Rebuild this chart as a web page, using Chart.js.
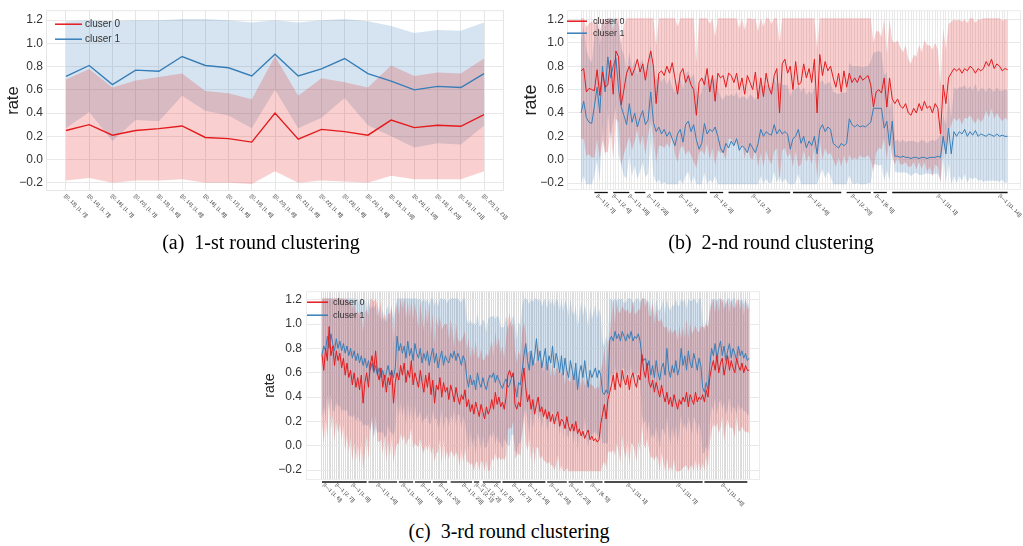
<!DOCTYPE html>
<html>
<head>
<meta charset="utf-8">
<script src="https://cdn.jsdelivr.net/npm/chart.js@4.4.1/dist/chart.umd.min.js"></script>
<style>
  body { margin: 0; background: #fff; }
  #page { position: relative; width: 1023px; height: 546px; overflow: hidden; background: #fff; }
  canvas { position: absolute; }
  .cap { position: absolute; font-family: "Liberation Serif", "Times New Roman", serif; font-size: 20px; color: #000; white-space: pre; transform: translate(-50%, -50%); }
</style>
</head>
<body>
<div id="page">
  <canvas id="chartA" width="515" height="232" style="left:0px;top:0px"></canvas>
  <canvas id="chartB" width="503" height="232" style="left:520px;top:0px"></canvas>
  <canvas id="chartC" width="510" height="238" style="left:260px;top:280px"></canvas>
  <div class="cap" style="left:261px;top:242px">(a)  1-st round clustering</div>
  <div class="cap" style="left:771px;top:242px">(b)  2-nd round clustering</div>
  <div class="cap" style="left:509px;top:531px">(c)  3-rd round clustering</div>
</div>
<script>
// y axis ticks shared by all three panels
const yTicks = [-0.2, 0.0, 0.2, 0.4, 0.6, 0.8, 1.0, 1.2];

//////////////////////// (a) 1-st round

const aLabels = [
    '[[0, 13], [1, 7]]', '[[0, 14], [1, 7]]', '[[0, 16], [1, 7]]', '[[0, 20], [1, 7]]',
    '[[0, 13], [1, 8]]', '[[0, 14], [1, 8]]', '[[0, 16], [1, 8]]', '[[0, 17], [1, 8]]',
    '[[0, 19], [1, 8]]', '[[0, 20], [1, 8]]', '[[0, 21], [1, 8]]', '[[0, 22], [1, 8]]',
    '[[0, 23], [1, 8]]', '[[0, 24], [1, 8]]', '[[0, 13], [1, 19]]', '[[0, 24], [1, 19]]',
    '[[0, 13], [1, 20]]', '[[0, 14], [1, 21]]', '[[0, 20], [1, 21]]',
];
const aMean0 = [0.25, 0.30, 0.21, 0.25, 0.266, 0.289, 0.19, 0.18, 0.15, 0.40, 0.175, 0.26, 0.24, 0.21, 0.34, 0.275, 0.295, 0.286, 0.386];
const aUpper0 = [0.69, 0.78, 0.62, 0.68, 0.71, 0.74, 0.59, 0.57, 0.52, 0.89, 0.55, 0.70, 0.665, 0.62, 0.81, 0.72, 0.75, 0.74, 0.87];
const aLower0 = [-0.18, -0.16, -0.20, -0.18, -0.18, -0.17, -0.20, -0.20, -0.21, -0.10, -0.20, -0.18, -0.19, -0.20, -0.14, -0.17, -0.17, -0.17, -0.10];
const aMean1 = [0.716, 0.81, 0.645, 0.77, 0.76, 0.887, 0.81, 0.79, 0.72, 0.907, 0.72, 0.78, 0.87, 0.74, 0.675, 0.60, 0.63, 0.62, 0.74];
const aUpper1 = [1.19, 1.20, 1.19, 1.20, 1.20, 1.21, 1.21, 1.20, 1.18, 1.20, 1.18, 1.20, 1.21, 1.19, 1.15, 1.09, 1.115, 1.11, 1.18];
const aLower1 = [0.27, 0.41, 0.16, 0.34, 0.33, 0.55, 0.42, 0.38, 0.27, 0.60, 0.27, 0.36, 0.53, 0.295, 0.20, 0.104, 0.14, 0.13, 0.29];

//////////////////////// (b) 2-nd round

const bMean0 = [
    0.76, 0.78, 0.58, 0.61, 0.60, 0.59, 0.77, 0.55, 0.75, 0.62, 0.64, 0.85, 0.56, 0.93, 0.88,
    0.47, 0.60,
    0.74, 0.80, 0.72, 0.78, 0.86, 0.75, 0.82, 0.68, 0.83, 0.93, 0.80,
    0.48, 0.74,
    0.76, 0.72, 0.80, 0.74, 0.83, 0.70, 0.56, 0.74, 0.78, 0.66, 0.72, 0.64, 0.60, 0.38,
    0.66, 0.70, 0.64, 0.78, 0.58, 0.72, 0.50,
    0.74, 0.70, 0.72, 0.62, 0.74, 0.72, 0.66, 0.74, 0.60, 0.70, 0.56, 0.72, 0.66, 0.60, 0.75, 0.52, 0.70, 0.54, 0.74, 0.62, 0.56, 0.72, 0.78,
    0.40, 0.82, 0.86, 0.74, 0.80, 0.60,
    0.84, 0.64, 0.66, 0.82, 0.70, 0.78, 0.66, 0.86, 0.40, 0.90, 0.72,
    0.84, 0.76, 0.80, 0.70, 0.62, 0.74, 0.58, 0.76, 0.62, 0.74,
    0.66, 0.70, 0.66, 0.72, 0.68, 0.70, 0.72, 0.64, 0.45,
    0.58, 0.60, 0.57, 0.70, 0.45, 0.70,
    0.52, 0.48, 0.52, 0.46, 0.44, 0.48, 0.40, 0.38, 0.44, 0.40, 0.48, 0.42, 0.50, 0.44, 0.46,
    0.40, 0.48, 0.44, 0.22, 0.64, 0.48,
    0.70, 0.74, 0.78, 0.76, 0.78, 0.74, 0.78, 0.76, 0.80, 0.78, 0.74, 0.78, 0.76,
    0.78, 0.84, 0.80, 0.86, 0.78, 0.82, 0.80, 0.76, 0.78, 0.77,
];
const bMean1 = [
    0.40, 0.50, 0.36, 0.32, 0.31, 0.46, 0.62, 0.40, 0.80, 0.58, 0.88, 0.70, 0.80, 0.87, 0.60,
    0.45, 0.38,
    0.30, 0.48, 0.32, 0.40, 0.28, 0.36, 0.42, 0.30, 0.34, 0.58, 0.32,
    0.24, 0.28,
    0.22, 0.26, 0.20, 0.24, 0.18, 0.12, 0.22, 0.26, 0.15, 0.30, 0.33, 0.24, 0.30, 0.17,
    0.09, 0.14, 0.31, 0.22, 0.26, 0.24, 0.28,
    0.20, 0.10, 0.06, 0.14, 0.10, 0.16, 0.12, 0.18, 0.08, 0.12, 0.10, 0.06, 0.14, 0.10, 0.06, 0.14, 0.26, 0.20, 0.24, 0.22, 0.21, 0.30, 0.22,
    0.26, 0.22, 0.24, 0.22, 0.09, 0.18,
    0.20, 0.26, 0.14, 0.20, 0.10, 0.16, 0.12, 0.20, 0.05, 0.26, 0.30,
    0.24, 0.28, 0.26, 0.14, 0.12, 0.10, 0.14, 0.12, 0.14, 0.35,
    0.30, 0.28, 0.30, 0.28, 0.29, 0.28, 0.30, 0.32, 0.44,
    0.44, 0.44, 0.44, 0.27, 0.33, 0.12,
    0.33, 0.03, 0.03, 0.02, 0.03, 0.02, 0.02, 0.01, 0.02, 0.02, 0.01, 0.02, 0.02, 0.01, 0.02,
    0.02, 0.02, 0.03, 0.02, 0.20, 0.05,
    0.27, 0.05, 0.24, 0.20, 0.24, 0.22, 0.26, 0.20, 0.24, 0.21, 0.25, 0.20, 0.22,
    0.21, 0.20, 0.22, 0.21, 0.20, 0.22, 0.20, 0.21, 0.20, 0.20,
];
const bSpread0 = [
    0.58, 0.60, 0.55, 0.56, 0.58, 0.57, 0.60, 0.55, 0.58, 0.56, 0.57, 0.60, 0.55, 0.58, 0.56, 0.52, 0.55,
    0.62, 0.60, 0.64, 0.62, 0.60, 0.63, 0.61, 0.64, 0.62, 0.60, 0.63, 0.50, 0.62,
    0.64, 0.62, 0.66, 0.64, 0.63, 0.65, 0.58, 0.64, 0.66, 0.62, 0.64, 0.60, 0.62, 0.45, 0.60, 0.62, 0.60, 0.64, 0.58, 0.62, 0.55,
    0.66, 0.64, 0.66, 0.62, 0.56, 0.54, 0.55, 0.56, 0.52, 0.56, 0.55, 0.62, 0.64, 0.60, 0.66, 0.58, 0.64, 0.60, 0.66, 0.62, 0.60, 0.65, 0.68,
    0.60, 0.74, 0.76, 0.72, 0.74, 0.66, 0.76, 0.70, 0.70, 0.74, 0.72, 0.74, 0.70, 0.76, 0.55, 0.74, 0.72, 0.74, 0.72, 0.74,
    0.70, 0.68, 0.72, 0.64, 0.72, 0.66, 0.70, 0.66, 0.68, 0.66, 0.68, 0.66, 0.68, 0.68, 0.64,
    0.55, 0.52, 0.50, 0.48, 0.52, 0.45, 0.50,
    0.50, 0.52, 0.50, 0.50, 0.48, 0.50, 0.46, 0.44, 0.46, 0.48, 0.50, 0.50, 0.52, 0.54, 0.52, 0.54, 0.52, 0.50, 0.42, 0.48, 0.46,
    0.46, 0.44, 0.42, 0.43, 0.42, 0.44, 0.42, 0.41, 0.42, 0.44, 0.43, 0.42, 0.44, 0.43, 0.42, 0.44, 0.42, 0.43, 0.42, 0.44, 0.43, 0.42, 0.43,
];
const bSpread1 = [
    0.62, 0.64, 0.58, 0.55, 0.52, 0.60, 0.62, 0.58, 0.50, 0.56, 0.46, 0.52, 0.48, 0.42, 0.55, 0.50, 0.52,
    0.46, 0.44, 0.46, 0.45, 0.44, 0.46, 0.44, 0.45, 0.46, 0.40, 0.45, 0.44, 0.45,
    0.44, 0.45, 0.44, 0.46, 0.44, 0.45, 0.44, 0.43, 0.45, 0.44, 0.43, 0.45, 0.44, 0.43, 0.45, 0.44, 0.42, 0.44, 0.43, 0.44, 0.42,
    0.42, 0.44, 0.45, 0.42, 0.44, 0.40, 0.42, 0.40, 0.44, 0.42, 0.44, 0.45, 0.42, 0.44, 0.45, 0.42, 0.40, 0.42, 0.40, 0.42, 0.41, 0.40, 0.42,
    0.40, 0.42, 0.40, 0.42, 0.45, 0.42, 0.40, 0.38, 0.44, 0.42, 0.45, 0.43, 0.44, 0.42, 0.45, 0.40, 0.38, 0.40, 0.38, 0.40,
    0.44, 0.45, 0.46, 0.44, 0.45, 0.44, 0.48, 0.50, 0.52, 0.50, 0.52, 0.50, 0.52, 0.50, 0.52,
    0.48, 0.48, 0.49, 0.48, 0.45, 0.42, 0.30,
    0.20, 0.13, 0.14, 0.13, 0.14, 0.13, 0.14, 0.15, 0.14, 0.13, 0.14, 0.15, 0.14, 0.13, 0.14, 0.15, 0.14, 0.15, 0.20, 0.18, 0.25,
    0.30, 0.30, 0.38, 0.40, 0.38, 0.40, 0.38, 0.40, 0.39, 0.38, 0.40, 0.38, 0.39, 0.40, 0.38, 0.40, 0.39, 0.38, 0.40, 0.39, 0.38, 0.40, 0.39,
];
const bTickText = [
    '[I\u20141 [1, 7]]', '[I\u20141 [2, 4]]', '[I\u20141 [1, 16]]', '[I\u20141 [1, 23]]',
    '[I\u20141 [2, 1]]', '[I\u20141 [2, 2]]', '[I\u20141 [2, 7]]', '[I\u20141 [2, 14]]',
    '[I\u20141 [2, 20]]', '[I\u20141 [6, 5]]', '[I\u20141 [11, 1]]', '[I\u20141 [11, 14]]',
];
const bTickAt = [6, 12, 18, 25, 37, 50, 64, 85, 101, 110, 133, 156];
const bGroups = [[5, 10], [12, 18], [20, 24], [27, 31], [32, 47], [48, 53], [55, 78], [79, 97], [99, 108], [109, 114], [116, 159]];

//////////////////////// (c) 3-rd round

const cMean0 = [
    0.75, 0.62, 0.80, 0.70, 0.98, 0.74, 0.82, 0.66, 0.78, 0.70, 0.76,
    0.64, 0.72, 0.58, 0.68, 0.56, 0.62, 0.50, 0.60, 0.48,
    0.56, 0.46, 0.58, 0.35, 0.52, 0.60, 0.48, 0.66, 0.74, 0.62, 0.78,
    0.60, 0.54, 0.64, 0.48, 0.58, 0.44, 0.56, 0.50, 0.62, 0.35, 0.52,
    0.60, 0.54, 0.66,
    0.58, 0.68, 0.52, 0.62, 0.56, 0.70, 0.50, 0.60, 0.54, 0.48, 0.62,
    0.52, 0.44, 0.58, 0.48, 0.60, 0.42, 0.54, 0.35, 0.50, 0.46, 0.56, 0.40, 0.52, 0.44, 0.48, 0.38, 0.50,
    0.44, 0.36, 0.48, 0.40, 0.34, 0.42, 0.38, 0.46,
    0.32, 0.38, 0.28, 0.34, 0.26, 0.36, 0.30, 0.24, 0.34, 0.28, 0.22, 0.32, 0.26, 0.30,
    0.38, 0.30, 0.44, 0.34, 0.40, 0.32,
    0.36, 0.30, 0.40, 0.58, 0.62, 0.56,
    0.60, 0.34, 0.30, 0.36, 0.32,
    0.52, 0.64, 0.48,
    0.36, 0.42, 0.30, 0.38, 0.26, 0.34, 0.40, 0.28, 0.32, 0.24, 0.30, 0.22, 0.28, 0.20, 0.26, 0.18, 0.24, 0.28, 0.16, 0.22,
    0.20, 0.14, 0.24, 0.16, 0.12,
    0.18, 0.12, 0.20, 0.10, 0.14, 0.08, 0.12, 0.06, 0.10, 0.13, 0.05, 0.08,
    0.04, 0.06, 0.03, 0.05, 0.18,
    0.26, 0.34, 0.22, 0.38,
    0.44,
    0.50, 0.58, 0.46, 0.60, 0.52, 0.48, 0.62, 0.54, 0.50, 0.58, 0.46, 0.56, 0.60, 0.52, 0.48, 0.58, 0.54,
    0.75, 0.62, 0.56, 0.68, 0.52,
    0.48, 0.54, 0.44, 0.52, 0.46, 0.40, 0.50,
    0.42, 0.36, 0.44, 0.34, 0.40, 0.32, 0.42, 0.36, 0.30, 0.38, 0.34,
    0.40, 0.36, 0.44, 0.32, 0.42, 0.38, 0.34, 0.44, 0.36, 0.40, 0.38,
    0.42, 0.36, 0.46, 0.40,
    0.56, 0.64,
    0.70, 0.62, 0.74, 0.60, 0.68, 0.72, 0.58, 0.66, 0.74, 0.62, 0.70, 0.64, 0.60, 0.72, 0.66, 0.62, 0.68, 0.60, 0.66, 0.62, 0.62,
];
const cMean1 = [
    0.75, 0.82, 0.78, 0.90, 0.80, 0.92, 0.84, 0.78, 0.88, 0.80, 0.86,
    0.78, 0.84, 0.76, 0.82, 0.74, 0.80, 0.72, 0.78, 0.70,
    0.76, 0.68, 0.74, 0.66, 0.72, 0.64, 0.70, 0.62, 0.68, 0.60, 0.66,
    0.58, 0.64, 0.56, 0.62, 0.54, 0.60, 0.66, 0.58, 0.62, 0.56, 0.64,
    0.90, 0.78, 0.84,
    0.76, 0.82, 0.72, 0.86, 0.74, 0.80, 0.70, 0.84, 0.76, 0.72, 0.80,
    0.68, 0.76, 0.70, 0.78, 0.66, 0.74, 0.80, 0.68, 0.76, 0.64, 0.72, 0.78, 0.66, 0.74, 0.70, 0.68, 0.76,
    0.72, 0.78, 0.70, 0.76, 0.72, 0.66, 0.74, 0.70,
    0.56, 0.48, 0.58, 0.50, 0.54, 0.46, 0.60, 0.52, 0.48, 0.56, 0.50, 0.46, 0.54, 0.58,
    0.56, 0.60, 0.52, 0.58, 0.54, 0.50,
    0.47, 0.52, 0.55, 0.48, 0.50, 0.56,
    0.58, 0.48, 0.40, 0.52, 0.50,
    0.62, 0.74, 0.84,
    0.70, 0.62, 0.78, 0.66, 0.74, 0.88, 0.70, 0.78, 0.64, 0.72, 0.80, 0.62, 0.74, 0.68, 0.82, 0.64, 0.76, 0.70, 0.60, 0.74,
    0.58, 0.72, 0.62, 0.56, 0.70,
    0.62, 0.54, 0.68, 0.46, 0.60, 0.66, 0.56, 0.70, 0.58, 0.48, 0.62, 0.56,
    0.60, 0.64, 0.56, 0.62, 0.58,
    0.44, 0.42, 0.46, 0.43,
    0.87,
    0.90, 0.86, 0.94, 0.88, 0.92, 0.86, 0.94, 0.90, 0.86, 0.92, 0.88, 0.94, 0.86, 0.90, 0.88, 0.92, 0.86,
    0.74, 0.70, 0.72, 0.64, 0.70,
    0.58, 0.66, 0.56, 0.70, 0.60, 0.54, 0.64,
    0.68, 0.58, 0.80, 0.62, 0.56, 0.66, 0.60, 0.70, 0.58, 0.64, 0.80,
    0.66, 0.74, 0.62, 0.78, 0.68, 0.64, 0.76, 0.70, 0.62, 0.72, 0.66,
    0.48, 0.44, 0.52, 0.46,
    0.66, 0.80,
    0.74, 0.84, 0.72, 0.80, 0.86, 0.74, 0.82, 0.70, 0.78, 0.84, 0.72, 0.80, 0.76, 0.70, 0.82, 0.74, 0.78, 0.72, 0.76, 0.70, 0.72,
];
const cSpread0 = [
    0.56, 0.60, 0.58, 0.63, 0.55, 0.61, 0.57, 0.62, 0.58, 0.60, 0.57,
    0.60, 0.55, 0.62, 0.59, 0.61, 0.56, 0.63, 0.57, 0.60,
    0.55, 0.61, 0.54, 0.58, 0.57, 0.52, 0.59, 0.54, 0.50, 0.56, 0.53,
    0.56, 0.51, 0.58, 0.55, 0.50, 0.57, 0.52, 0.59, 0.54, 0.49, 0.56,
    0.58, 0.53, 0.56,
    0.54, 0.59, 0.52, 0.57, 0.50, 0.55, 0.53, 0.58, 0.54, 0.49, 0.56,
    0.54, 0.50, 0.57, 0.52, 0.58, 0.49, 0.55, 0.48, 0.56, 0.51, 0.50, 0.55, 0.47, 0.56, 0.52, 0.49, 0.54,
    0.50, 0.46, 0.53, 0.48, 0.51, 0.45, 0.52, 0.48,
    0.46, 0.51, 0.44, 0.48, 0.47, 0.50, 0.43, 0.48, 0.46, 0.42, 0.49, 0.44, 0.47, 0.50,
    0.48, 0.43, 0.50, 0.46, 0.49, 0.44,
    0.46, 0.42, 0.48, 0.45, 0.47, 0.42,
    0.40, 0.45, 0.38, 0.42, 0.41,
    0.42, 0.38, 0.45,
    0.40, 0.36, 0.43, 0.38, 0.41, 0.35, 0.42, 0.39, 0.40, 0.36, 0.43, 0.37, 0.41, 0.36, 0.42, 0.38, 0.40, 0.35, 0.43, 0.38,
    0.41, 0.36, 0.42, 0.38, 0.40,
    0.44, 0.40, 0.47, 0.42, 0.45, 0.40, 0.46, 0.43, 0.44, 0.39, 0.46, 0.42,
    0.45, 0.40, 0.46, 0.42, 0.44,
    0.42, 0.47, 0.40, 0.44,
    0.48,
    0.56, 0.61, 0.54, 0.58, 0.57, 0.62, 0.53, 0.58, 0.60, 0.55, 0.62, 0.54, 0.59, 0.56, 0.61, 0.54, 0.58,
    0.56, 0.61, 0.58, 0.62, 0.55,
    0.58, 0.63, 0.56, 0.60, 0.57, 0.62, 0.55,
    0.56, 0.61, 0.54, 0.58, 0.57, 0.60, 0.53, 0.59, 0.56, 0.61, 0.54,
    0.58, 0.53, 0.60, 0.56, 0.59, 0.54, 0.61, 0.55, 0.58, 0.53, 0.60,
    0.56, 0.61, 0.54, 0.58,
    0.54, 0.52,
    0.52, 0.47, 0.55, 0.50, 0.53, 0.48, 0.54, 0.51, 0.52, 0.47, 0.55, 0.50, 0.53, 0.48, 0.54, 0.50, 0.52, 0.47, 0.55, 0.50, 0.52,
];
const cSpread1 = [
    0.52, 0.50, 0.54, 0.48, 0.52, 0.50, 0.55, 0.50, 0.52, 0.48, 0.53,
    0.50, 0.54, 0.48, 0.52, 0.50, 0.55, 0.49, 0.52, 0.50,
    0.52, 0.48, 0.53, 0.50, 0.54, 0.48, 0.52, 0.50, 0.47, 0.53, 0.50,
    0.48, 0.52, 0.46, 0.50, 0.47, 0.52, 0.49, 0.46, 0.51, 0.48, 0.50,
    0.50, 0.54, 0.48,
    0.52, 0.48, 0.55, 0.50, 0.53, 0.47, 0.52, 0.50, 0.54, 0.48, 0.51,
    0.50, 0.54, 0.48, 0.52, 0.49, 0.55, 0.50, 0.47, 0.53, 0.50, 0.52, 0.48, 0.54, 0.50, 0.47, 0.52, 0.50,
    0.52, 0.48, 0.53, 0.50, 0.47, 0.52, 0.49, 0.51,
    0.48, 0.52, 0.46, 0.50, 0.47, 0.53, 0.49, 0.46, 0.51, 0.48, 0.52, 0.47, 0.50, 0.48,
    0.50, 0.47, 0.52, 0.49, 0.51, 0.48,
    0.50, 0.46, 0.52, 0.48, 0.50, 0.47,
    0.49, 0.52, 0.46, 0.50, 0.48,
    0.52, 0.49, 0.53,
    0.50, 0.54, 0.48, 0.52, 0.50, 0.55, 0.49, 0.52, 0.50, 0.47, 0.53, 0.50, 0.54, 0.48, 0.52, 0.50, 0.55, 0.49, 0.51, 0.50,
    0.52, 0.48, 0.53, 0.50, 0.51,
    0.49, 0.53, 0.47, 0.51, 0.48, 0.52, 0.50, 0.46, 0.51, 0.49, 0.52, 0.48,
    0.50, 0.52, 0.48, 0.51, 0.49,
    0.42, 0.40, 0.44, 0.41,
    0.35,
    0.30, 0.33, 0.28, 0.31, 0.29, 0.34, 0.30, 0.27, 0.32, 0.30, 0.33, 0.28, 0.31, 0.29, 0.33, 0.30, 0.32,
    0.48, 0.52, 0.50, 0.54, 0.49,
    0.52, 0.56, 0.50, 0.54, 0.52, 0.57, 0.51,
    0.54, 0.50, 0.56, 0.52, 0.55, 0.50, 0.54, 0.52, 0.57, 0.51, 0.54,
    0.52, 0.56, 0.50, 0.54, 0.51, 0.55, 0.52, 0.50, 0.54, 0.52, 0.55,
    0.54, 0.50, 0.52, 0.50,
    0.48, 0.46,
    0.46, 0.44, 0.47, 0.45, 0.48, 0.44, 0.46, 0.45, 0.47, 0.44, 0.46, 0.48, 0.45, 0.44, 0.47, 0.45, 0.46, 0.44, 0.47, 0.45, 0.46,
];
const cTickText = [
    '[I\u20141 [1, 6]]', '[I\u20141 [2, 7]]', '[I\u20141 [1, 8]]', '[I\u20141 [1, 14]]', '[I\u20141 [1, 16]]',
    '[I\u20141 [1, 18]]', '[I\u20141 [1, 20]]', '[I\u20141 [1, 23]]', '[I\u20141 [2, 1]]', '[I\u20141 [2, 2]]',
    '[I\u20141 [2, 5]]', '[I\u20141 [2, 7]]', '[I\u20141 [2, 14]]', '[I\u20141 [2, 16]]', '[I\u20141 [2, 20]]',
    '[I\u20141 [6, 5]]', '[I\u20141 [11, 1]]', '[I\u20141 [11, 7]]', '[I\u20141 [11, 14]]',
];
const cTickAt = [1, 8, 17, 31, 45, 56, 66, 79, 86, 90, 97, 107, 116, 128, 139, 151, 171, 199, 224];
const cGroups = [[0, 25], [26, 42], [43, 51], [52, 61], [62, 70], [72, 84], [85, 88], [90, 100], [101, 125], [126, 137], [138, 146], [147, 157], [158, 213], [214, 238]];

//////////////////////// helpers

Chart.defaults.font.family = '"Liberation Sans", Arial, sans-serif';
Chart.defaults.color = '#333';

const RED = 'rgb(228, 26, 28)';
const BLUE = 'rgb(55, 126, 184)';
const RED_FILL = 'rgba(228, 26, 28, 0.21)';
const BLUE_FILL = 'rgba(55, 126, 184, 0.21)';
const CLEAR = 'rgba(0, 0, 0, 0)';

const pts = arr => arr.map((y, i) => ({x: i, y: y}));
const bandEdge = (mean, spread, sign) => mean.map((m, i) => Math.max(-0.21, Math.min(1.21, m + sign * spread[i])));

function datasets(m0, u0, l0, m1, u1, l1, lw) {
    const line = (label, data, color) => ({
        label: label, data: pts(data), borderColor: color, borderWidth: lw,
        pointRadius: 0, fill: false, tension: 0,
    });
    const edge = (data, fill, bg) => ({
        label: '', data: pts(data), borderColor: CLEAR, borderWidth: 1,
        pointRadius: 0, fill: fill, backgroundColor: bg || CLEAR, tension: 0,
    });
    return [
        line('cluser 0', m0, RED),
        line('cluser 1', m1, BLUE),
        edge(u0, false),
        edge(l0, '-1', RED_FILL),
        edge(u1, false),
        edge(l1, '-1', BLUE_FILL),
    ];
}

function yScale(min, max, width, pad, titleSize, titlePad) {
    return {
        type: 'linear', min: min, max: max,
        afterBuildTicks: s => { s.ticks = yTicks.map(v => ({value: v})); },
        afterFit: s => { s.width = width; },
        ticks: {
            font: {size: 12}, color: '#333', padding: pad,
            callback: v => v.toFixed(1).replace('-', '\u2212'),
        },
        grid: {color: '#e8e8e8', drawTicks: false},
        border: {display: false},
        title: {display: true, text: 'rate', color: '#222', font: {size: titleSize}, padding: {top: titlePad, bottom: 0}},
    };
}

function xScale(min, max, n, height, gridColor) {
    return {
        type: 'linear', min: min, max: max,
        afterBuildTicks: s => { s.ticks = Array.from({length: n}, (_, i) => ({value: i})); },
        afterFit: s => { s.height = height; },
        ticks: {display: false},
        grid: {color: gridColor, drawTicks: false},
        border: {display: false},
    };
}

// light frame round the plot area
function frame(color) {
    return {
        id: 'frame',
        beforeDatasetsDraw(chart) {
            const {ctx, chartArea} = chart;
            ctx.save();
            ctx.strokeStyle = color;
            ctx.lineWidth = 1;
            ctx.strokeRect(chartArea.left + 0.5, chartArea.top + 0.5, chartArea.width - 1, chartArea.height - 1);
            ctx.restore();
        }
    };
}

// legend drawn inside the top-left corner of the plot
function insideLegend(o) {
    return {
        id: 'insideLegend',
        afterDatasetsDraw(chart) {
            const {ctx, chartArea} = chart;
            ctx.save();
            ctx.font = o.size + 'px "Liberation Sans", Arial, sans-serif';
            ctx.textBaseline = 'middle';
            ctx.textAlign = 'left';
            chart.data.datasets.filter(d => d.label).forEach((d, i) => {
                const y = chartArea.top + o.top + i * o.row;
                const x = chartArea.left + o.left;
                ctx.strokeStyle = d.borderColor;
                ctx.lineWidth = 1.5;
                ctx.beginPath();
                ctx.moveTo(x, y);
                ctx.lineTo(x + o.len, y);
                ctx.stroke();
                ctx.fillStyle = '#333';
                ctx.fillText(d.label, x + o.len + o.gap, y);
            });
            ctx.restore();
        }
    };
}

// rotated category labels (and group bars) under the x axis
function axisLabels(o) {
    return {
        id: 'axisLabels',
        afterDraw(chart) {
            const {ctx, chartArea} = chart;
            const xs = chart.scales.x;
            ctx.save();
            ctx.strokeStyle = '#111';
            ctx.lineWidth = 1.3;
            (o.groups || []).forEach(g => {
                const y = chartArea.bottom + o.lineGap;
                ctx.beginPath();
                ctx.moveTo(xs.getPixelForValue(g[0]), y);
                ctx.lineTo(xs.getPixelForValue(g[1]), y);
                ctx.stroke();
            });
            ctx.font = o.size + 'px "Liberation Sans", Arial, sans-serif';
            ctx.fillStyle = '#333';
            ctx.textAlign = 'left';
            ctx.textBaseline = 'middle';
            o.text.forEach((t, i) => {
                ctx.save();
                ctx.translate(xs.getPixelForValue(o.at[i]) + o.dx, chartArea.bottom + o.dy);
                ctx.rotate(Math.PI / 4);
                ctx.fillText(t, 0, 0);
                ctx.restore();
            });
            ctx.restore();
        }
    };
}

const baseOptions = (padTop, padRight, scales) => ({
    responsive: false,
    animation: false,
    devicePixelRatio: 1,
    layout: {padding: {top: padTop, right: padRight, left: 0, bottom: 0}},
    plugins: {legend: {display: false}, tooltip: {enabled: false}},
    scales: scales,
});

//////////////////////// (a)

const chartA = new Chart(document.getElementById('chartA'), {
    type: 'line',
    data: {datasets: datasets(aMean0, aUpper0, aLower0, aMean1, aUpper1, aLower1, 1.4)},
    options: baseOptions(9, 11, {
        x: xScale(-0.86, 18.86, aLabels.length, 41, '#e6e6e6'),
        y: yScale(-0.271, 1.286, 46, 3, 16.5, 3.4),
    }),
    plugins: [
        frame('#e6e6e6'),
        insideLegend({left: 9, top: 14, row: 15, len: 27, gap: 3, size: 10}),
        axisLabels({text: aLabels, at: aLabels.map((_, i) => i), dx: -1, dy: 4, size: 5}),
    ],
});

//////////////////////// (b)

const chartB = new Chart(document.getElementById('chartB'), {
    type: 'line',
    data: {datasets: datasets(
        bMean0, bandEdge(bMean0, bSpread0, 1), bandEdge(bMean0, bSpread0, -1),
        bMean1, bandEdge(bMean1, bSpread1, 1), bandEdge(bMean1, bSpread1, -1), 1)},
    options: baseOptions(1, 2, {
        x: xScale(-5.22, 164.0, bMean0.length, 42, '#e9e9e9'),
        y: yScale(-0.259, 1.279, 47, 3, 18, 0),
    }),
    plugins: [
        frame('#ececec'),
        insideLegend({left: 0, top: 11, row: 12, len: 20, gap: 6, size: 9}),
        axisLabels({text: bTickText, at: bTickAt, groups: bGroups, lineGap: 2.5, dx: 0, dy: 5, size: 5}),
    ],
});

//////////////////////// (c)

const chartC = new Chart(document.getElementById('chartC'), {
    type: 'line',
    data: {datasets: datasets(
        cMean0, bandEdge(cMean0, cSpread0, 1), bandEdge(cMean0, cSpread0, -1),
        cMean1, bandEdge(cMean1, cSpread1, 1), bandEdge(cMean1, cSpread1, -1), 1)},
    options: baseOptions(8, 10, {
        x: xScale(-8.95, 245.1, cMean0.length, 38, '#dcdcdc'),
        y: yScale(-0.281, 1.27, 46, 4, 14, 1.6),
    }),
    plugins: [
        frame('#ececec'),
        insideLegend({left: 1, top: 11, row: 13, len: 21, gap: 5, size: 9}),
        axisLabels({text: cTickText, at: cTickAt, groups: cGroups, lineGap: 2, dx: 0, dy: 4, size: 5}),
    ],
});
</script>
</body>
</html>
